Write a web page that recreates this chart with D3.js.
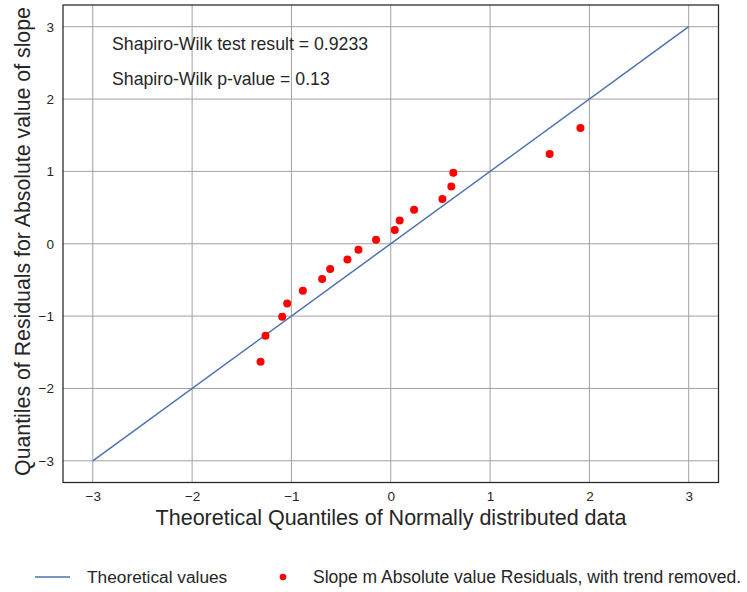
<!DOCTYPE html>
<html>
<head>
<meta charset="utf-8">
<script src="https://cdn.jsdelivr.net/npm/d3@7"></script>
<style>
  html, body { margin: 0; padding: 0; background: #fff; }
  svg { display: block; font-family: "Liberation Sans", Arial, sans-serif; }
</style>
</head>
<body>
<svg id="chart" width="747" height="592"></svg>
<script>
// ---- data ----
const theoreticalQuantiles = [-1.311, -1.261, -1.093, -1.043, -0.885, -0.691, -0.61, -0.436, -0.325, -0.148, 0.04, 0.09, 0.235, 0.52, 0.61, 0.63, 1.6, 1.91];
const residualQuantiles   = [-1.63, -1.27, -1.01, -0.825, -0.65, -0.488, -0.35, -0.217, -0.083, 0.055, 0.189, 0.322, 0.47, 0.618, 0.792, 0.98, 1.24, 1.60];
const lineX = [-3, 3];
const lineY = [-3, 3];
const xTicks = [-3, -2, -1, 0, 1, 2, 3];
const yTicks = [-3, -2, -1, 0, 1, 2, 3];
const annotations = ["Shapiro-Wilk test result = 0.9233", "Shapiro-Wilk p-value = 0.13"];
const legendLabels = ["Theoretical values", "Slope m Absolute value Residuals, with trend removed."];
const xLabel = "Theoretical Quantiles of Normally distributed data";
const yLabel = "Quantiles of Residuals for Absolute value of slope";

(function () {
const svg = d3.select("#chart");
const pL = 63, pR = 718.5, pT = 5, pB = 482.5;
const x = d3.scaleLinear().domain([-3.3, 3.3]).range([pL, pR]);
const y = d3.scaleLinear().domain([-3.3, 3.3]).range([pB, pT]);
const textColor = "#262626";
const gridColor = "#a0a0a0";

// grid
const grid = svg.append("g");
grid.selectAll("line.vx").data(xTicks).join("line")
  .attr("x1", d => x(d)).attr("x2", d => x(d)).attr("y1", pT).attr("y2", pB)
  .attr("stroke", gridColor).attr("stroke-width", 1);
grid.selectAll("line.hy").data(yTicks).join("line")
  .attr("y1", d => y(d)).attr("y2", d => y(d)).attr("x1", pL).attr("x2", pR)
  .attr("stroke", gridColor).attr("stroke-width", 1);

// axes (labels only)
const xAxis = svg.append("g").attr("transform", `translate(0,${pB})`)
  .call(d3.axisBottom(x).tickValues(xTicks).tickSize(0).tickPadding(9).tickFormat(d3.format("")));
xAxis.select(".domain").remove();
xAxis.selectAll("text").attr("font-size", 13.5).attr("fill", textColor).style("font-family", "Liberation Sans, Arial, sans-serif");

const yAxis = svg.append("g").attr("transform", `translate(${pL},0)`)
  .call(d3.axisLeft(y).tickValues(yTicks).tickSize(0).tickPadding(9).tickFormat(d3.format("")));
yAxis.select(".domain").remove();
yAxis.selectAll("text").attr("font-size", 13.5).attr("fill", textColor).style("font-family", "Liberation Sans, Arial, sans-serif");

// theoretical line
svg.append("path")
  .datum(lineX.map((v, i) => [v, lineY[i]]))
  .attr("d", d3.line().x(d => x(d[0])).y(d => y(d[1])))
  .attr("stroke", "#4c72b0").attr("stroke-width", 1.5).attr("fill", "none");

// points
svg.append("g").selectAll("circle")
  .data(theoreticalQuantiles.map((v, i) => [v, residualQuantiles[i]]))
  .join("circle")
  .attr("cx", d => x(d[0])).attr("cy", d => y(d[1])).attr("r", 4)
  .attr("fill", "#ff0000");

// frame
svg.append("rect").attr("x", pL).attr("y", pT).attr("width", pR - pL).attr("height", pB - pT)
  .attr("fill", "none").attr("stroke", "#262626").attr("stroke-width", 1.25);

// annotations
svg.append("g").selectAll("text").data(annotations).join("text")
  .attr("x", 112).attr("y", (d, i) => 50 + i * 35)
  .attr("font-size", 17.7).attr("fill", textColor).text(d => d);

// axis labels
svg.append("text").attr("x", 391).attr("y", 525).attr("text-anchor", "middle")
  .attr("font-size", 21.5).attr("fill", textColor).text(xLabel);
svg.append("text").attr("transform", `translate(30,241.5) rotate(-90)`)
  .attr("text-anchor", "middle").attr("font-size", 21.3).attr("fill", textColor).text(yLabel);

// legend
const lg = svg.append("g");
lg.append("line").attr("x1", 35).attr("x2", 70).attr("y1", 577).attr("y2", 577)
  .attr("stroke", "#4c72b0").attr("stroke-width", 1.5);
lg.append("text").attr("x", 87).attr("y", 583).attr("font-size", 17.3).attr("fill", textColor).text(legendLabels[0]);
lg.append("circle").attr("cx", 283).attr("cy", 577).attr("r", 3.3).attr("fill", "#ff0000");
lg.append("text").attr("x", 313).attr("y", 583).attr("font-size", 17.5).attr("fill", textColor).text(legendLabels[1]);
})();
</script>
</body>
</html>
